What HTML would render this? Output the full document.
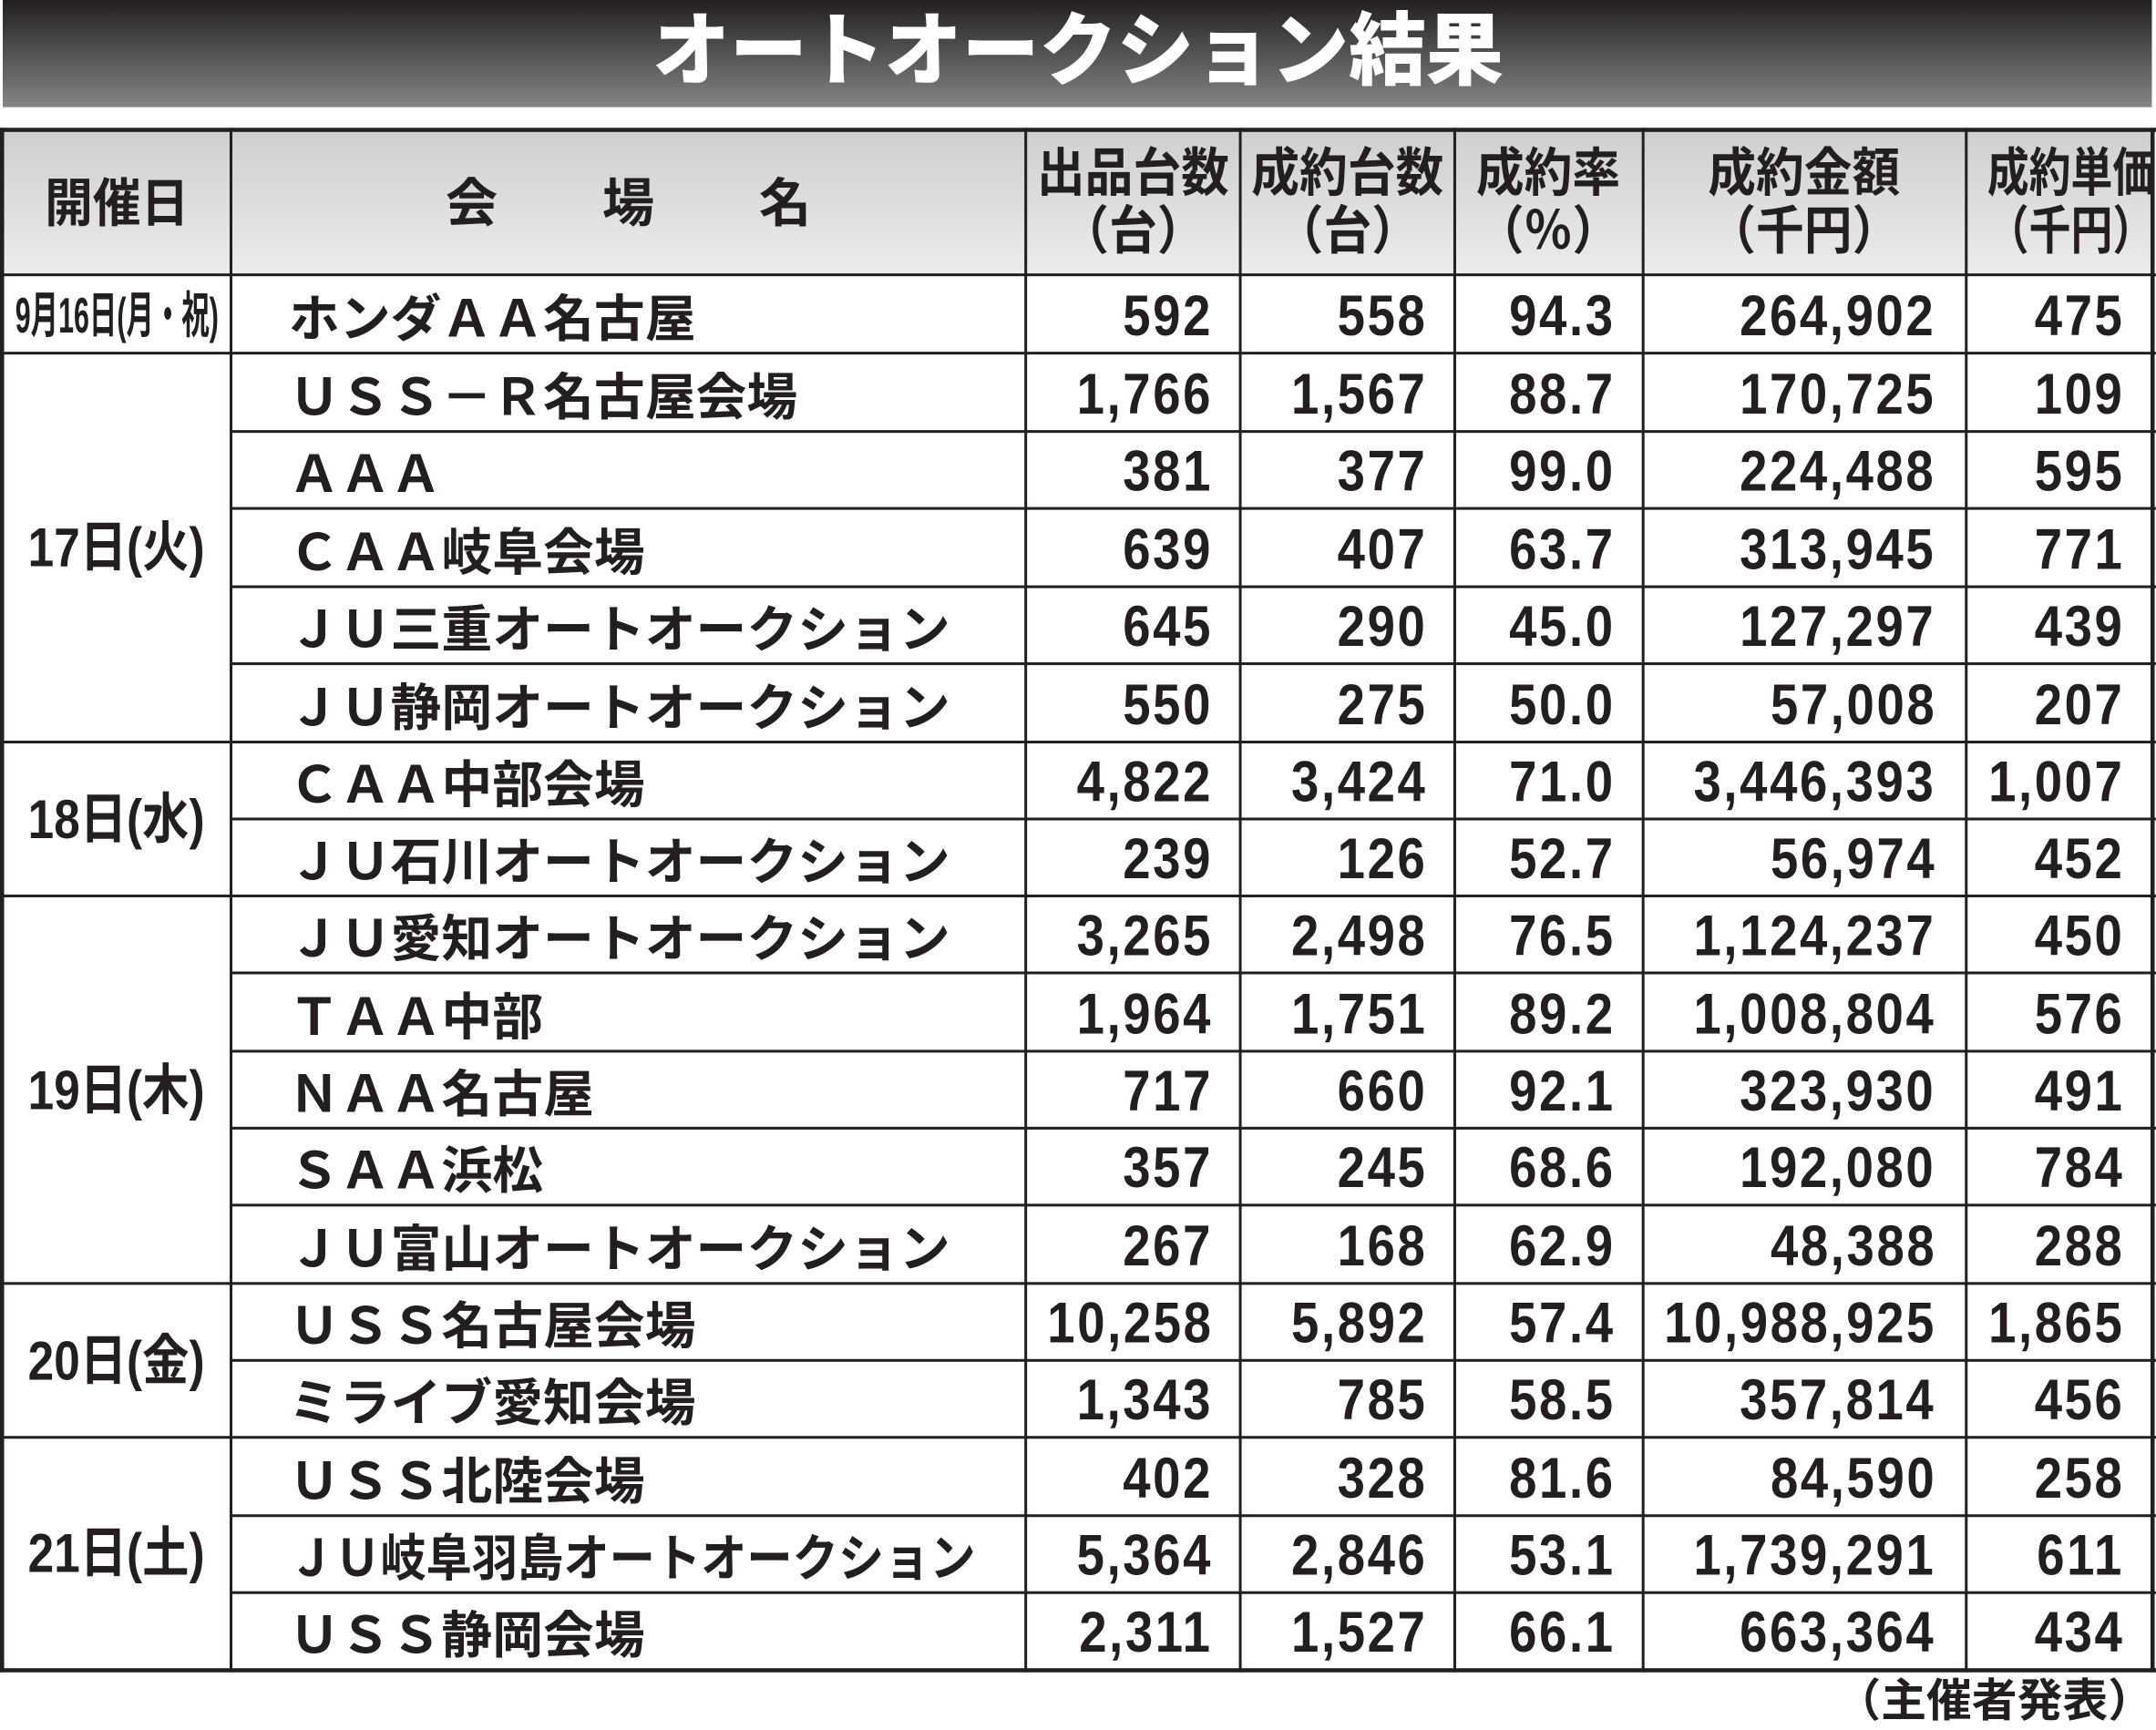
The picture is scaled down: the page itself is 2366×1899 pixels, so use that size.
<!DOCTYPE html>
<html><head><meta charset="utf-8">
<style>
html,body{margin:0;padding:0;background:#fff;width:2366px;height:1890px;overflow:hidden}
#w{position:absolute;left:0;top:0;width:1568px;height:1253px;transform:scale(1.50893,1.50838);transform-origin:0 0}
.t{position:absolute;left:2px;top:0;width:1563px;height:78px;background:linear-gradient(#231f20,#858585)}
.tt{position:absolute;left:0;top:2px;width:1568px;text-align:center;color:#fff;font:900 58px/72px "Liberation Sans","Noto Sans CJK JP",sans-serif;transform:scaleX(0.97)}
.hl,.vl{position:absolute;background:#231f20}
.hd{position:absolute;top:95px;height:105px;background:linear-gradient(#cfcfd1,#ececec)}
.h{position:absolute;text-align:center;font:700 38px/42px "Liberation Sans","Noto Sans CJK JP",sans-serif;color:#231f20;white-space:nowrap}
.h span{display:inline-block;transform:scaleX(0.92)}
.n{position:absolute;height:56px;font:700 42px/56px "Liberation Sans",sans-serif;color:#231f20;white-space:nowrap;letter-spacing:2px;transform:scaleX(0.86);transform-origin:100% 50%;text-align:right}
.m{position:absolute;left:210px;height:56px;font:700 37px/56px "Noto Sans CJK JP",sans-serif;color:#231f20;white-space:nowrap;transform-origin:0 50%}
.d{position:absolute;left:2px;width:166px;text-align:center;font:700 40px/40px "Liberation Sans","Noto Sans CJK JP",sans-serif;color:#231f20;white-space:nowrap}
.d span{display:inline-block;transform:scaleX(0.85)}
</style></head><body><div id="w">
<div class="t"></div><div class="tt">オートオークション結果</div>

<div class="hd" style="left:2px;width:1563px"></div>
<div class="h" style="left:2px;width:166px;top:128px"><span>開催日</span></div>
<div class="h" style="left:168px;width:578px;top:128px">会　　場　　名</div>
<div class="h" style="left:746px;width:156px;top:106px"><span>出品台数<br>（台）</span></div>
<div class="h" style="left:902px;width:156px;top:106px"><span>成約台数<br>（台）</span></div>
<div class="h" style="left:1058px;width:137px;top:106px"><span>成約率<br>（％）</span></div>
<div class="h" style="left:1195px;width:235px;top:106px"><span>成約金額<br>（千円）</span></div>
<div class="h" style="left:1430px;width:135px;top:106px"><span style="transform:scaleX(0.8)">成約単価<br>（千円）</span></div>

<div class="hl" style="left:0;top:93px;width:1568px;height:3px"></div>
<div class="hl" style="left:0;top:199px;width:1568px;height:2px"></div>
<div class="hl" style="left:0;top:256px;width:1568px;height:2px"></div>
<div class="hl" style="left:168px;top:313px;width:1400px;height:2px"></div>
<div class="hl" style="left:168px;top:369px;width:1400px;height:2px"></div>
<div class="hl" style="left:168px;top:426px;width:1400px;height:2px"></div>
<div class="hl" style="left:168px;top:482px;width:1400px;height:2px"></div>
<div class="hl" style="left:0;top:539px;width:1568px;height:2px"></div>
<div class="hl" style="left:168px;top:595px;width:1400px;height:2px"></div>
<div class="hl" style="left:0;top:651px;width:1568px;height:2px"></div>
<div class="hl" style="left:168px;top:707px;width:1400px;height:2px"></div>
<div class="hl" style="left:168px;top:764px;width:1400px;height:2px"></div>
<div class="hl" style="left:168px;top:820px;width:1400px;height:2px"></div>
<div class="hl" style="left:168px;top:876px;width:1400px;height:2px"></div>
<div class="hl" style="left:0;top:933px;width:1568px;height:2px"></div>
<div class="hl" style="left:168px;top:989px;width:1400px;height:2px"></div>
<div class="hl" style="left:0;top:1045px;width:1568px;height:2px"></div>
<div class="hl" style="left:168px;top:1102px;width:1400px;height:2px"></div>
<div class="hl" style="left:168px;top:1158px;width:1400px;height:2px"></div>
<div class="hl" style="left:0;top:1214px;width:1568px;height:3px"></div>
<div class="vl" style="left:0;top:93px;width:3px;height:1124px"></div>
<div class="vl" style="left:167px;top:93px;width:2px;height:1124px"></div>
<div class="vl" style="left:745px;top:93px;width:2px;height:1124px"></div>
<div class="vl" style="left:901px;top:93px;width:2px;height:1124px"></div>
<div class="vl" style="left:1057px;top:93px;width:2px;height:1124px"></div>
<div class="vl" style="left:1194px;top:93px;width:2px;height:1124px"></div>
<div class="vl" style="left:1429px;top:93px;width:2px;height:1124px"></div>
<div class="vl" style="left:1564px;top:93px;width:3px;height:1124px"></div>

<div class="d" style="top:209px"><span style="transform:scaleX(0.56);margin-left:-60px;margin-right:-60px;font-size:36px">9月16日(月・祝)</span></div>
<div class="d" style="top:379px"><span>17日(火)</span></div>
<div class="d" style="top:577px"><span>18日(水)</span></div>
<div class="d" style="top:774px"><span>19日(木)</span></div>
<div class="d" style="top:971px"><span>20日(金)</span></div>
<div class="d" style="top:1111px"><span>21日(土)</span></div>

<div class="m" style="top:201px">ホンダＡＡ名古屋</div>
<div class="m" style="top:258px">ＵＳＳ－Ｒ名古屋会場</div>
<div class="m" style="top:314px">ＡＡＡ</div>
<div class="m" style="top:371px">ＣＡＡ岐阜会場</div>
<div class="m" style="top:427px">ＪＵ三重オートオークション</div>
<div class="m" style="top:484px">ＪＵ静岡オートオークション</div>
<div class="m" style="top:540px">ＣＡＡ中部会場</div>
<div class="m" style="top:596px">ＪＵ石川オートオークション</div>
<div class="m" style="top:652px">ＪＵ愛知オートオークション</div>
<div class="m" style="top:709px">ＴＡＡ中部</div>
<div class="m" style="top:765px">ＮＡＡ名古屋</div>
<div class="m" style="top:821px">ＳＡＡ浜松</div>
<div class="m" style="top:878px">ＪＵ富山オートオークション</div>
<div class="m" style="top:934px">ＵＳＳ名古屋会場</div>
<div class="m" style="top:990px">ミライブ愛知会場</div>
<div class="m" style="top:1047px">ＵＳＳ北陸会場</div>
<div class="m" style="top:1103px;transform:scaleX(0.9)">ＪＵ岐阜羽島オートオークション</div>
<div class="m" style="top:1159px">ＵＳＳ静岡会場</div>

<div class="n" style="right:686px;top:202px">592</div><div class="n" style="right:530px;top:202px">558</div><div class="n" style="right:393px;top:202px">94.3</div><div class="n" style="right:160px;top:202px">264,902</div><div class="n" style="right:23px;top:202px">475</div>
<div class="n" style="right:686px;top:259px">1,766</div><div class="n" style="right:530px;top:259px">1,567</div><div class="n" style="right:393px;top:259px">88.7</div><div class="n" style="right:160px;top:259px">170,725</div><div class="n" style="right:23px;top:259px">109</div>
<div class="n" style="right:686px;top:315px">381</div><div class="n" style="right:530px;top:315px">377</div><div class="n" style="right:393px;top:315px">99.0</div><div class="n" style="right:160px;top:315px">224,488</div><div class="n" style="right:23px;top:315px">595</div>
<div class="n" style="right:686px;top:372px">639</div><div class="n" style="right:530px;top:372px">407</div><div class="n" style="right:393px;top:372px">63.7</div><div class="n" style="right:160px;top:372px">313,945</div><div class="n" style="right:23px;top:372px">771</div>
<div class="n" style="right:686px;top:428px">645</div><div class="n" style="right:530px;top:428px">290</div><div class="n" style="right:393px;top:428px">45.0</div><div class="n" style="right:160px;top:428px">127,297</div><div class="n" style="right:23px;top:428px">439</div>
<div class="n" style="right:686px;top:485px">550</div><div class="n" style="right:530px;top:485px">275</div><div class="n" style="right:393px;top:485px">50.0</div><div class="n" style="right:160px;top:485px">57,008</div><div class="n" style="right:23px;top:485px">207</div>
<div class="n" style="right:686px;top:541px">4,822</div><div class="n" style="right:530px;top:541px">3,424</div><div class="n" style="right:393px;top:541px">71.0</div><div class="n" style="right:160px;top:541px">3,446,393</div><div class="n" style="right:23px;top:541px">1,007</div>
<div class="n" style="right:686px;top:597px">239</div><div class="n" style="right:530px;top:597px">126</div><div class="n" style="right:393px;top:597px">52.7</div><div class="n" style="right:160px;top:597px">56,974</div><div class="n" style="right:23px;top:597px">452</div>
<div class="n" style="right:686px;top:653px">3,265</div><div class="n" style="right:530px;top:653px">2,498</div><div class="n" style="right:393px;top:653px">76.5</div><div class="n" style="right:160px;top:653px">1,124,237</div><div class="n" style="right:23px;top:653px">450</div>
<div class="n" style="right:686px;top:710px">1,964</div><div class="n" style="right:530px;top:710px">1,751</div><div class="n" style="right:393px;top:710px">89.2</div><div class="n" style="right:160px;top:710px">1,008,804</div><div class="n" style="right:23px;top:710px">576</div>
<div class="n" style="right:686px;top:766px">717</div><div class="n" style="right:530px;top:766px">660</div><div class="n" style="right:393px;top:766px">92.1</div><div class="n" style="right:160px;top:766px">323,930</div><div class="n" style="right:23px;top:766px">491</div>
<div class="n" style="right:686px;top:822px">357</div><div class="n" style="right:530px;top:822px">245</div><div class="n" style="right:393px;top:822px">68.6</div><div class="n" style="right:160px;top:822px">192,080</div><div class="n" style="right:23px;top:822px">784</div>
<div class="n" style="right:686px;top:879px">267</div><div class="n" style="right:530px;top:879px">168</div><div class="n" style="right:393px;top:879px">62.9</div><div class="n" style="right:160px;top:879px">48,388</div><div class="n" style="right:23px;top:879px">288</div>
<div class="n" style="right:686px;top:935px">10,258</div><div class="n" style="right:530px;top:935px">5,892</div><div class="n" style="right:393px;top:935px">57.4</div><div class="n" style="right:160px;top:935px">10,988,925</div><div class="n" style="right:23px;top:935px">1,865</div>
<div class="n" style="right:686px;top:991px">1,343</div><div class="n" style="right:530px;top:991px">785</div><div class="n" style="right:393px;top:991px">58.5</div><div class="n" style="right:160px;top:991px">357,814</div><div class="n" style="right:23px;top:991px">456</div>
<div class="n" style="right:686px;top:1048px">402</div><div class="n" style="right:530px;top:1048px">328</div><div class="n" style="right:393px;top:1048px">81.6</div><div class="n" style="right:160px;top:1048px">84,590</div><div class="n" style="right:23px;top:1048px">258</div>
<div class="n" style="right:686px;top:1104px">5,364</div><div class="n" style="right:530px;top:1104px">2,846</div><div class="n" style="right:393px;top:1104px">53.1</div><div class="n" style="right:160px;top:1104px">1,739,291</div><div class="n" style="right:23px;top:1104px">611</div>
<div class="n" style="right:686px;top:1160px">2,311</div><div class="n" style="right:530px;top:1160px">1,527</div><div class="n" style="right:393px;top:1160px">66.1</div><div class="n" style="right:160px;top:1160px">663,364</div><div class="n" style="right:23px;top:1160px">434</div>

<div style="position:absolute;right:2px;top:1217px;font:700 33px/36px 'Noto Sans CJK JP',sans-serif;color:#231f20">（主催者発表）</div>
</div></body></html>
